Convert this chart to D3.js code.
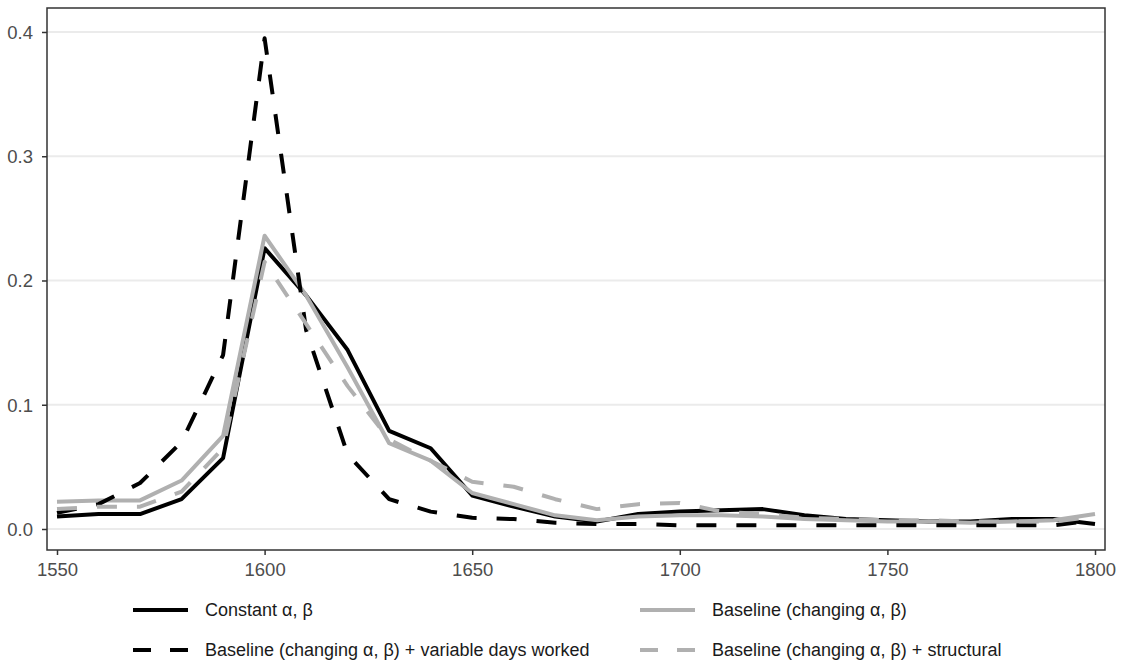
<!DOCTYPE html>
<html>
<head>
<meta charset="utf-8">
<script src="https://cdn.jsdelivr.net/npm/d3@7"></script>
<style>
  body { margin: 0; background: #fff; overflow: hidden; }
  svg { display: block; }
  text { font-family: "Liberation Sans", Arial, sans-serif; }
</style>
</head>
<body>
<svg class="visSVG"></svg>
<script>
const svgWidth = 1123;
const svgHeight = 662;

// data, one value per decade
const years = [1550, 1560, 1570, 1580, 1590, 1600, 1610, 1620, 1630, 1640, 1650, 1660, 1670,
    1680, 1690, 1700, 1710, 1720, 1730, 1740, 1750, 1760, 1770, 1780, 1790, 1800];

const constantAB = [0.010, 0.012, 0.012, 0.024, 0.057, 0.226, 0.188, 0.144, 0.079, 0.065, 0.027, 0.018, 0.010,
    0.006, 0.012, 0.014, 0.015, 0.016, 0.011, 0.008, 0.007, 0.006, 0.006, 0.008, 0.008, 0.004];

const baseline = [0.022, 0.023, 0.023, 0.039, 0.075, 0.236, 0.188, 0.130, 0.069, 0.055, 0.029, 0.020, 0.011,
    0.007, 0.010, 0.011, 0.011, 0.010, 0.008, 0.007, 0.006, 0.006, 0.005, 0.006, 0.007, 0.012];

const variableDays = [0.013, 0.020, 0.037, 0.070, 0.140, 0.395, 0.160, 0.060, 0.024, 0.014, 0.009, 0.008, 0.005,
    0.004, 0.004, 0.003, 0.003, 0.003, 0.003, 0.003, 0.003, 0.003, 0.003, 0.003, 0.003, 0.007];

const structural = [0.016, 0.018, 0.018, 0.030, 0.065, 0.215, 0.165, 0.115, 0.072, 0.055, 0.038, 0.034, 0.024,
    0.016, 0.020, 0.021, 0.014, 0.012, 0.009, 0.008, 0.007, 0.007, 0.006, 0.006, 0.006, 0.010];

const xTicks = [1550, 1600, 1650, 1700, 1750, 1800];
const yTicks = [0.0, 0.1, 0.2, 0.3, 0.4];

const seriesNames = [
    "Constant α, β",
    "Baseline (changing α, β)",
    "Baseline (changing α, β) + variable days worked",
    "Baseline (changing α, β) + structural"
];

const series = [
    { name: seriesNames[0], values: constantAB, color: "#000000", dash: null },
    { name: seriesNames[1], values: baseline, color: "#b0b0b0", dash: null },
    { name: seriesNames[2], values: variableDays, color: "#000000", dash: "20,20" },
    { name: seriesNames[3], values: structural, color: "#b0b0b0", dash: "20,20" }
];

const margin = { top: 8, right: 18, left: 47, bottom: 112 };
const innerWidth = svgWidth - margin.left - margin.right;
const innerHeight = svgHeight - margin.top - margin.bottom;

const svg = d3.select('.visSVG')
    .attr("width", svgWidth)
    .attr("height", svgHeight);

const graph = svg.append("g")
    .attr("transform", "translate(" + margin.left + "," + margin.top + ")");

const xScale = d3.scaleLinear()
    .domain([1550, 1800])
    .range([10, innerWidth - 10]);

const yScale = d3.scaleLinear()
    .domain([-0.0169, 0.4193])
    .range([innerHeight, 0]);

// GRID
graph.append("g")
    .selectAll("line")
    .data(yTicks).enter().append("line")
        .attr("x1", 0)
        .attr("x2", innerWidth)
        .attr("y1", d => yScale(d))
        .attr("y2", d => yScale(d))
        .attr("stroke", "#ebebeb")
        .attr("stroke-width", 1.8);

// AXES
const yAxis = graph.append("g")
    .call(d3.axisLeft(yScale).tickValues(yTicks).tickFormat(d3.format(".1f")).tickSize(5).tickSizeOuter(0));
const xAxis = graph.append("g")
    .attr("transform", "translate(0," + innerHeight + ")")
    .call(d3.axisBottom(xScale).tickValues(xTicks).tickFormat(d3.format("d")).tickSize(5).tickSizeOuter(0));

[xAxis, yAxis].forEach(function (ax) {
    ax.select(".domain").remove();
    ax.selectAll(".tick line").attr("stroke", "#333333").attr("stroke-width", 1.5);
    ax.selectAll(".tick text")
        .attr("fill", "#4d4d4d")
        .style("font-size", "18.5px");
});
yAxis.selectAll(".tick text").attr("x", -14).attr("dy", "0.34em");
xAxis.selectAll(".tick text").attr("y", 13);

// LINES
const line = d3.line()
    .x((d, i) => xScale(years[i]))
    .y(d => yScale(d));

graph.append("g")
    .selectAll("path")
    .data(series).enter().append("path")
        .attr("d", d => line(d.values))
        .attr("fill", "none")
        .attr("stroke", d => d.color)
        .attr("stroke-width", 4)
        .attr("stroke-linejoin", "round")
        .attr("stroke-dasharray", d => d.dash);

// PANEL BORDER
graph.append("rect")
    .attr("x", 0)
    .attr("y", 0)
    .attr("width", innerWidth)
    .attr("height", innerHeight)
    .attr("fill", "none")
    .attr("stroke", "#333333")
    .attr("stroke-width", 1.5);

// LEGEND
const legendPos = [
    { x: 133, y: 610 },
    { x: 640, y: 610 },
    { x: 133, y: 650 },
    { x: 640, y: 650 }
];

const legend = svg.append("g")
    .selectAll("g")
    .data(series).enter().append("g")
        .attr("transform", (d, i) => "translate(" + legendPos[i].x + "," + legendPos[i].y + ")");

legend.append("line")
    .attr("x1", 0)
    .attr("x2", 55)
    .attr("y1", 0)
    .attr("y2", 0)
    .attr("stroke", d => d.color)
    .attr("stroke-width", 4)
    .attr("stroke-dasharray", d => d.dash ? "18,19" : null);

legend.append("text")
    .attr("x", 72)
    .attr("y", 0)
    .attr("dy", "0.35em")
    .attr("fill", "#1a1a1a")
    .style("font-size", "18px")
    .text(d => d.name);
</script>
</body>
</html>
